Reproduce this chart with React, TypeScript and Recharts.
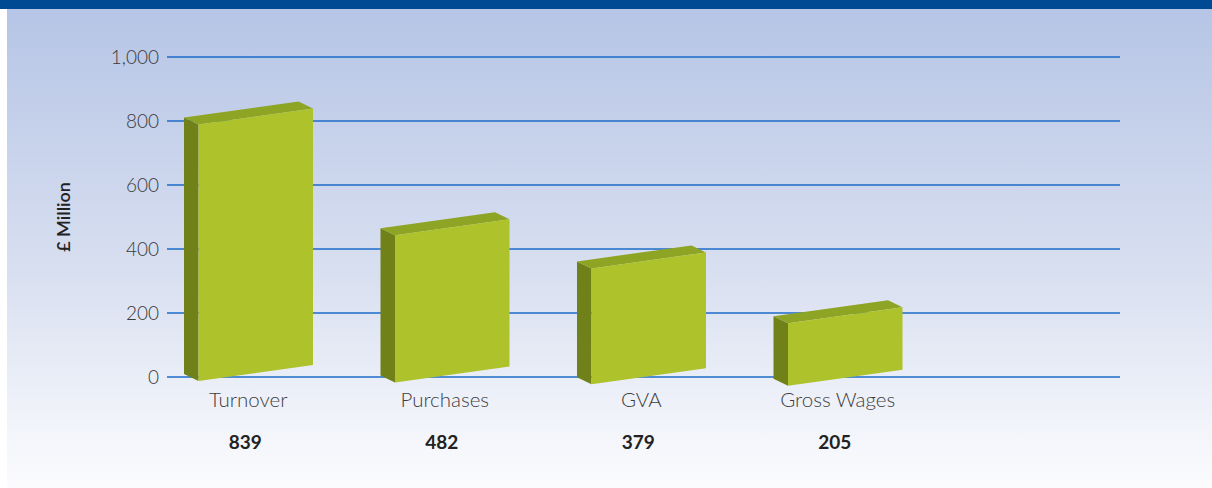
import React from 'react';
import { BarChart, Bar, XAxis, YAxis, CartesianGrid, Label } from 'recharts';

const categories = ['Turnover', 'Purchases', 'GVA', 'Gross Wages'];
const values = [839, 482, 379, 205];
const yTicks = [0, 200, 400, 600, 800, 1000];

const data = categories.map((name, i) => ({ name, value: values[i] }));

const FONT = 'Lato, "Open Sans", sans-serif';

const fmt = (v: number) => String(v).replace(/\B(?=(\d{3})+(?!\d))/g, ',');

// oblique 3d box: side face on the left, top face skewed up to the right
const Box3D = (props: any) => {
    const { x, y, width, height, index } = props;
    const dx = 14.5;
    const dy = 7;
    const skew = 16;
    const fx = x + dx;
    const rx = x + width;
    const bl = y + height + 4 + index * 1.6;
    const br = bl - skew;
    const h = height * 0.955;
    const tl = bl - h;
    const tr = br - h;
    return (
        <g>
            <polygon
                points={`${fx},${tl} ${fx},${bl} ${fx - dx},${bl - dy} ${fx - dx},${tl - dy}`}
                fill="#6f8118"
            />
            <polygon
                points={`${fx},${tl} ${rx},${tr} ${rx - dx},${tr - dy} ${fx - dx},${tl - dy}`}
                fill="#8ea424"
            />
            <polygon points={`${fx},${tl} ${rx},${tr} ${rx},${br} ${fx},${bl}`} fill="#aec22b" />
        </g>
    );
};

const CategoryTick = (props: any) => {
    const { x, y, payload, index } = props;
    return (
        <g>
            <text x={x} y={y + 22} textAnchor="middle" fill="#3e3e3e" fontSize={20.5} fontWeight={300} fontFamily={FONT}>
                {payload.value}
            </text>
            <text x={x - 3} y={y + 64} textAnchor="middle" fill="#222" fontSize={19} fontWeight={700} fontFamily={FONT}>
                {values[index]}
            </text>
        </g>
    );
};

export default function App() {
    return (
        <div style={{ position: 'fixed', left: 0, top: 0, width: 1212, height: 488, background: '#fff' }}>
            <div style={{ position: 'absolute', left: 0, top: 0, width: 1212, height: 9, background: '#004a93' }} />
            <div
                style={{
                    position: 'absolute',
                    left: 7,
                    top: 9,
                    width: 1205,
                    height: 479,
                    background: 'linear-gradient(to bottom, #b6c5e6 0%, #d8dff0 55%, #f4f6fb 90%, #fbfbfd 100%)',
                }}
            />
            <div style={{ position: 'absolute', left: 0, top: 0 }}>
                <BarChart width={1212} height={488} data={data} margin={{ top: 57, right: 92, bottom: 81, left: 0 }}>
                    <CartesianGrid horizontal vertical={false} stroke="#1d6bc9" strokeWidth={1.6} />
                    <XAxis
                        dataKey="name"
                        height={30}
                        axisLine={false}
                        tickLine={false}
                        interval={0}
                        padding={{ left: -17, right: 184 }}
                        tick={<CategoryTick />}
                    />
                    <YAxis
                        width={167}
                        domain={[0, 1000]}
                        ticks={yTicks}
                        axisLine={false}
                        tickLine={false}
                        tickFormatter={fmt}
                        tick={{ fontSize: 19, fill: '#3a3a3a', fontFamily: FONT, fontWeight: 300 }}
                    >
                        <Label
                            value="£ Million"
                            angle={-90}
                            position="insideLeft"
                            offset={64}
                            style={{ textAnchor: 'middle', fontSize: 18, fontWeight: 600, fill: '#222', fontFamily: FONT }}
                        />
                    </YAxis>
                    <Bar dataKey="value" barSize={129} shape={<Box3D />} isAnimationActive={false} />
                </BarChart>
            </div>
        </div>
    );
}
